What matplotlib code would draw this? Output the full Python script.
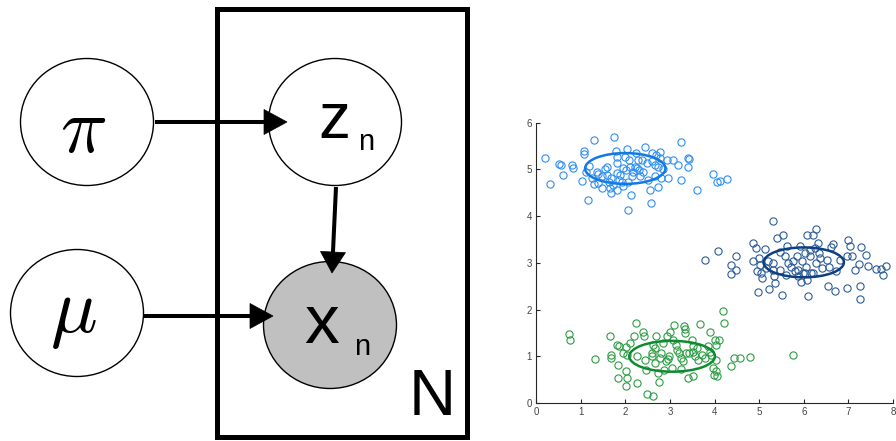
import matplotlib
matplotlib.use("Agg")
import matplotlib.pyplot as plt
from matplotlib.patches import Ellipse, Rectangle, Polygon

# ---------------- data (scatter) ----------------
light_x = [0.20, 0.31, 0.52, 0.55, 0.60, 0.81, 0.84, 1.02, 1.07, 1.07, 1.17, 1.30, 1.19, 1.25, 1.30,
           1.40, 1.40, 1.49, 1.60, 1.60, 1.66, 1.69, 1.69, 1.75, 1.79, 1.81, 1.81, 1.82, 1.82, 1.87,
           1.92, 1.94, 1.96, 1.99, 2.01, 2.04, 2.07, 2.07, 2.09, 2.14, 2.16, 2.22, 2.25, 2.29, 2.31,
           2.37, 2.40, 2.44, 2.48, 2.51, 2.55, 2.57, 2.59, 2.61, 2.66, 2.70, 2.74, 2.74, 2.78, 2.78,
           2.81, 2.85, 2.93, 2.96, 3.07, 3.19, 3.25, 3.25, 3.41, 3.41, 3.43, 3.60, 3.97, 4.06, 4.12,
           4.28, 1.54, 1.47, 1.64, 1.73, 1.88, 2.10, 2.18, 2.33, 1.36, 1.13, 2.66, 2.27]
light_y = [5.25, 4.69, 5.12, 5.10, 4.88, 5.09, 5.02, 4.76, 5.40, 5.32, 4.35, 5.62, 5.07, 4.81, 4.69,
           4.90, 4.70, 4.60, 5.06, 4.88, 4.60, 4.50, 4.81, 5.69, 5.40, 5.27, 5.13, 4.92, 4.55, 4.78,
           4.74, 5.02, 4.65, 5.27, 4.99, 5.44, 4.74, 4.13, 5.20, 4.45, 4.85, 5.06, 5.35, 5.20, 4.99,
           5.20, 4.95, 5.47, 5.13, 4.78, 4.56, 4.29, 5.36, 5.17, 4.85, 5.31, 5.06, 4.62, 5.38, 5.24,
           4.81, 5.00, 5.20, 4.81, 5.20, 5.10, 5.58, 4.78, 5.24, 5.05, 5.22, 4.55, 4.90, 4.74, 4.76,
           4.80, 5.00, 4.85, 4.74, 4.67, 4.88, 5.06, 4.95, 4.85, 4.95, 4.95, 5.10, 5.03]

dark_x = [3.78, 4.08, 4.38, 4.38, 4.49, 4.49, 4.87, 4.87, 4.94, 4.96, 4.97, 5.00, 5.01, 5.05, 5.07,
          5.13, 5.16, 5.22, 5.30, 5.31, 5.33, 5.35, 5.40, 5.46, 5.46, 5.52, 5.54, 5.57, 5.60, 5.63,
          5.65, 5.72, 5.80, 5.84, 5.87, 5.91, 5.93, 5.97, 5.99, 6.02, 6.06, 6.07, 6.07, 6.10, 6.13,
          6.17, 6.21, 6.25, 6.27, 6.28, 6.32, 6.34, 6.40, 6.51, 6.54, 6.57, 6.62, 6.66, 6.69, 6.73,
          6.81, 6.96, 6.98, 6.99, 7.03, 7.09, 7.14, 7.24, 7.25, 7.27, 7.29, 7.39, 7.44, 7.63, 7.74,
          7.78, 7.85, 5.20, 5.76, 5.87, 6.13, 6.02, 5.31, 6.21, 6.36]
dark_y = [3.06, 3.26, 2.96, 2.76, 3.14, 2.85, 3.42, 3.03, 3.32, 2.82, 2.37, 3.10, 2.96, 2.78, 2.67,
          3.29, 2.89, 2.44, 3.90, 2.99, 2.71, 2.57, 3.53, 3.24, 2.85, 2.32, 3.60, 3.14, 2.74, 3.36,
          2.99, 2.92, 2.82, 3.14, 2.85, 3.35, 2.60, 3.03, 2.79, 3.21, 2.92, 3.60, 2.64, 2.28, 3.14,
          2.78, 3.60, 3.31, 3.73, 2.99, 3.42, 3.21, 2.89, 3.06, 2.51, 2.92, 3.34, 3.40, 2.39, 2.82,
          3.06, 3.14, 2.46, 3.48, 3.35, 3.14, 2.85, 2.98, 2.51, 2.23, 3.34, 3.17, 2.94, 2.87, 2.87,
          2.74, 2.94, 3.03, 3.03, 2.71, 3.28, 2.78, 2.85, 2.78, 3.10]

green_x = [0.75, 0.76, 1.32, 1.66, 1.67, 1.69, 1.81, 1.87, 1.84, 1.84, 1.96, 2.01, 2.03, 2.01, 2.04,
           2.01, 2.20, 2.25, 2.27, 2.27, 2.39, 2.42, 2.44, 2.46, 2.49, 2.61, 2.63, 2.66, 2.66, 2.70,
           2.76, 2.78, 2.81, 2.85, 2.87, 2.91, 2.93, 2.96, 3.00, 3.04, 3.09, 3.13, 3.15, 3.21, 3.24,
           3.26, 3.30, 3.31, 3.34, 3.34, 3.37, 3.41, 3.49, 3.51, 3.52, 3.52, 3.56, 3.60, 3.63, 3.67,
           3.71, 3.78, 3.86, 3.90, 3.91, 3.93, 3.96, 3.99, 4.01, 4.03, 4.04, 4.06, 4.10, 4.18, 4.21,
           4.36, 4.43, 4.58, 4.79, 5.76, 2.99, 2.59, 2.74, 3.07, 2.10, 2.63, 4.04, 3.43]
green_y = [1.48, 1.35, 0.94, 1.44, 1.03, 0.96, 1.25, 1.23, 0.82, 0.53, 1.08, 1.20, 1.03, 0.68, 0.53,
           0.36, 1.44, 1.72, 1.01, 0.43, 1.53, 1.44, 0.91, 0.71, 0.20, 1.07, 0.14, 1.18, 0.86, 1.43,
           0.44, 0.96, 1.07, 1.28, 0.71, 0.89, 1.43, 0.94, 1.51, 0.75, 1.68, 1.25, 1.13, 1.07, 0.73,
           0.96, 0.89, 1.65, 1.58, 1.50, 1.07, 0.53, 1.35, 1.21, 1.10, 0.57, 1.00, 1.18, 0.93, 1.69,
           1.03, 0.96, 1.21, 1.10, 1.53, 1.03, 0.75, 0.61, 1.35, 0.91, 0.68, 0.57, 1.35, 1.96, 1.71,
           0.80, 0.96, 0.96, 0.98, 1.03, 1.01, 1.00, 0.64, 1.35, 1.28, 1.25, 1.25, 1.07]

# cluster ellipse parameters: centre x, centre y, full width, full height
ell_cx = [2.00, 6.00, 3.05]
ell_cy = [5.02, 3.01, 1.00]
ell_w = [1.80, 1.80, 1.92]
ell_h = [0.66, 0.64, 0.66]

point_colors = ["#2E8FF2", "#2B5C98", "#2C9C44"]
line_colors = ["#1279E2", "#0E3F82", "#0E8B30"]

x_ticks = [0, 1, 2, 3, 4, 5, 6, 7, 8]
y_ticks = [0, 1, 2, 3, 4, 5, 6]

# ---------------- figure ----------------
W, H = 896, 441
fig = plt.figure(figsize=(W / 100, H / 100), dpi=100)

# ---- left: graphical model in pixel coordinates ----
axl = fig.add_axes([0, 0, 0.54, 1])
axl.set_xlim(0, 0.54 * W)
axl.set_ylim(H, 0)
axl.axis("off")

node_w, node_h = 133, 127
nodes = [(87, 122, "white"), (77, 313, "white"), (335, 122, "white"), (330, 325, "#C0C0C0")]
for cx, cy, fc in nodes:
    axl.add_patch(Ellipse((cx, cy), node_w, node_h, facecolor=fc, edgecolor="black", lw=1.0, zorder=2))

# plate
axl.add_patch(Rectangle((217, 9), 250, 428, fill=False, edgecolor="black", lw=3.6, zorder=1))

def arrow(x0, y0, x1, y1, head=23, half=12.5):
    import math
    dx, dy = x1 - x0, y1 - y0
    L = math.hypot(dx, dy)
    ux, uy = dx / L, dy / L
    bx, by = x1 - ux * head, y1 - uy * head
    axl.plot([x0, bx + ux * 2], [y0, by + uy * 2], color="black", lw=2.9,
             solid_capstyle="butt", zorder=3)
    px, py = -uy, ux
    axl.add_patch(Polygon([(x1, y1), (bx + px * half, by + py * half), (bx - px * half, by - py * half)],
                          closed=True, facecolor="black", edgecolor="black", lw=0.5, zorder=3))

arrow(155, 122, 287, 122)
arrow(143, 316, 273, 316)
arrow(336, 187, 332, 273, head=21, half=12.5)

plt.rcParams["mathtext.fontset"] = "cm"
axl.text(83, 130, r"$\pi$", fontsize=56, ha="center", va="center", zorder=4)
axl.text(73, 313, r"$\mu$", fontsize=56, ha="center", va="center", zorder=4)

sans = "Liberation Sans"
axl.text(334, 138, "z", fontsize=46, family=sans, ha="center", va="baseline", zorder=4)
axl.text(358, 150, "n", fontsize=21, family=sans, ha="left", va="baseline", zorder=4)
axl.text(322, 343, "x", fontsize=50, family=sans, ha="center", va="baseline", zorder=4)
axl.text(354, 355, "n", fontsize=21, family=sans, ha="left", va="baseline", zorder=4)
axl.text(432, 415, "N", fontsize=47, family=sans, ha="center", va="baseline", zorder=4)

# ---- right: scatter ----
ax = fig.add_axes([536 / W, 1 - 403 / H, (893 - 536) / W, (403 - 122.7) / H])
series = [(light_x, light_y), (dark_x, dark_y), (green_x, green_y)]
for (xs, ys), c in zip(series, point_colors):
    ax.plot(xs, ys, linestyle="none", marker="o", ms=5.2, mfc="none", mec=c, mew=0.8)
for cx, cy, w, h, c in zip(ell_cx, ell_cy, ell_w, ell_h, line_colors):
    ax.add_patch(Ellipse((cx, cy), w, h, fill=False, edgecolor=c, lw=1.8, zorder=3))

ax.set_xlim(0, 8)
ax.set_ylim(0, 6)
ax.set_xticks(x_ticks)
ax.set_yticks(y_ticks)
ax.spines["top"].set_visible(False)
ax.spines["right"].set_visible(False)
for s in ("left", "bottom"):
    ax.spines[s].set_color("#262626")
    ax.spines[s].set_linewidth(0.8)
ax.tick_params(direction="in", length=3, width=0.8, colors="#262626", labelsize=7,
               labelcolor="#444444", pad=3)
for lab in ax.get_xticklabels() + ax.get_yticklabels():
    lab.set_family("Liberation Sans")

fig.savefig("out.png", dpi=100)
